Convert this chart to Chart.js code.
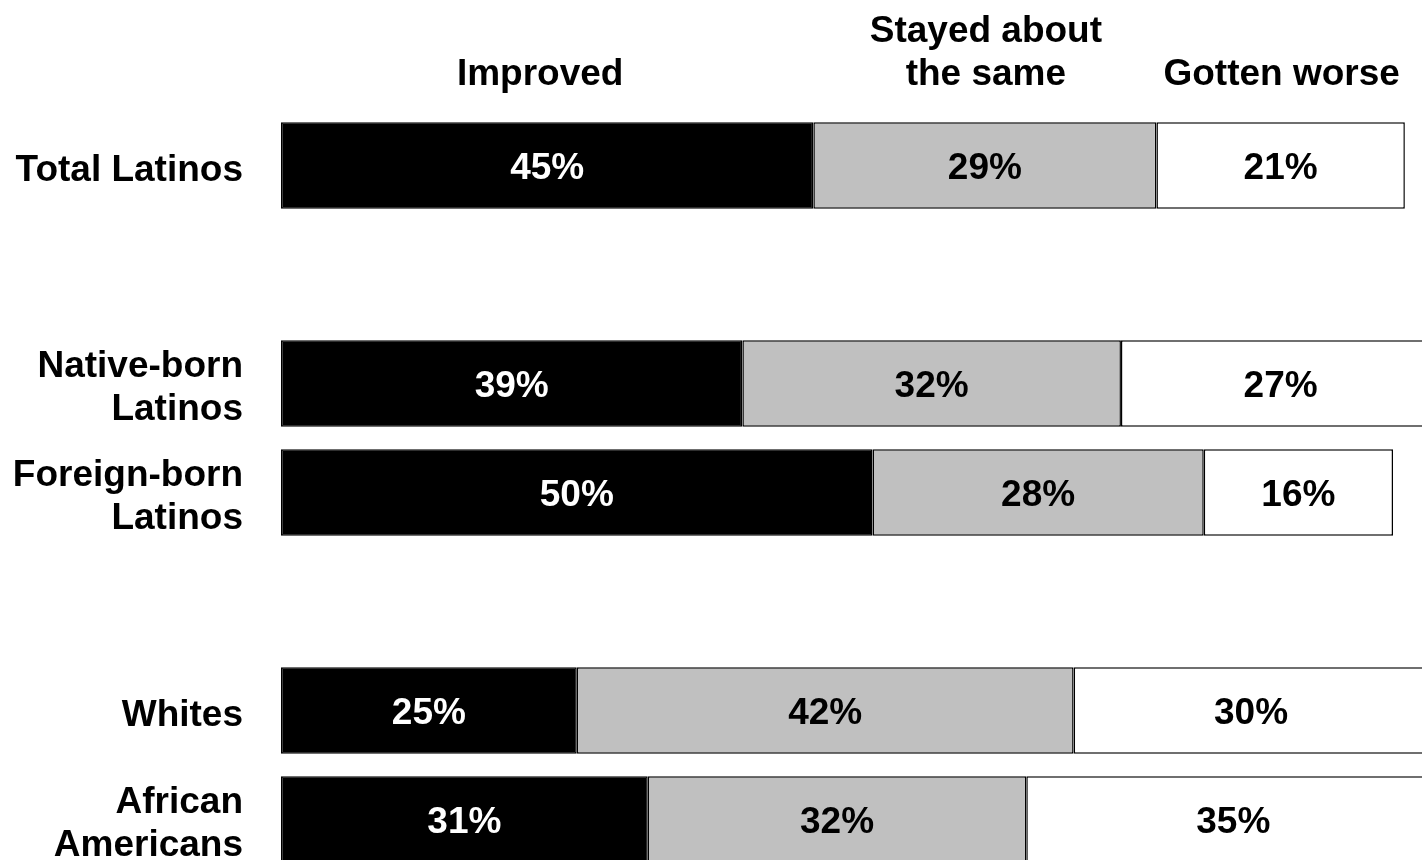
<!DOCTYPE html>
<html>
<head>
<meta charset="utf-8">
<script src="https://cdn.jsdelivr.net/npm/chart.js@4"></script>
<style>
  html, body { margin: 0; padding: 0; background: #fff; overflow: hidden; }
</style>
</head>
<body>
<canvas id="myChart" width="1464" height="874"></canvas>
<script>
const groups = ['Total Latinos', '', ['Native-born', 'Latinos'], ['Foreign-born', 'Latinos'], '', 'Whites', ['African', 'Americans']];
const improved = [45, null, 39, 50, null, 25, 31];
const stayedSame = [29, null, 32, 28, null, 42, 32];
const gottenWorse = [21, null, 27, 16, null, 30, 35];
const seriesTitles = [['Improved'], ['Stayed about', 'the same'], ['Gotten worse']];

const FONT = "'Liberation Sans', Arial, sans-serif";

// segment values and column headings drawn on top of the bars
const labelPlugin = {
    id: 'segmentLabels',
    afterDatasetsDraw(chart) {
        const ctx = chart.ctx;
        const area = chart.chartArea;
        ctx.save();
        ctx.font = 'bold 37px ' + FONT;
        ctx.textAlign = 'center';
        ctx.textBaseline = 'middle';
        chart.data.datasets.forEach((ds, i) => {
            const meta = chart.getDatasetMeta(i);
            meta.data.forEach((bar, j) => {
                const v = ds.data[j];
                if (v == null) return;
                const cx = (bar.x + bar.base) / 2;
                ctx.fillStyle = i === 0 ? '#fff' : '#000';
                ctx.fillText(v + '%', cx, bar.y + 3);
            });
            // heading over the first row
            const first = meta.data[0];
            const hx = (first.x + first.base) / 2 + (i === 0 ? -7 : 1);
            const lines = seriesTitles[i];
            ctx.fillStyle = '#000';
            lines.forEach((line, k) => {
                const y = area.top - 36 - (lines.length - 1 - k) * 43;
                ctx.fillText(line, hx, y);
            });
        });
        ctx.restore();
    }
};

function createChart() {
    const ctx = document.getElementById('myChart');

    new Chart(ctx, {
        type: 'bar',
        data: {
            labels: groups,
            datasets: [{
                label: 'Improved',
                data: improved,
                backgroundColor: '#000000',
                borderColor: '#000000',
                borderWidth: 1.5,
                borderSkipped: false
            }, {
                label: 'Stayed about the same',
                data: stayedSame,
                backgroundColor: '#c0c0c0',
                borderColor: '#000000',
                borderWidth: 1.5,
                borderSkipped: false
            }, {
                label: 'Gotten worse',
                data: gottenWorse,
                backgroundColor: '#ffffff',
                borderColor: '#000000',
                borderWidth: 1.5,
                borderSkipped: false
            }
            ]
        },
        options: {
            indexAxis: 'y',
            responsive: false,
            devicePixelRatio: 1,
            animation: false,
            barPercentage: 0.795,
            categoryPercentage: 1,
            layout: {
                padding: { top: 111, right: 0, bottom: 0, left: 0 }
            },
            plugins: {
                legend: { display: false },
                tooltip: { enabled: false }
            },
            scales: {
                x: {
                    stacked: true,
                    display: false,
                    min: 0,
                    max: 100
                },
                y: {
                    stacked: true,
                    grid: { display: false, drawTicks: false },
                    border: { display: false },
                    afterFit(scale) {
                        scale.width = 281;
                        scale.paddingTop = 0;
                        scale.paddingBottom = 0;
                    },
                    ticks: {
                        padding: 38,
                        labelOffset: 5,
                        color: '#000',
                        font: { family: FONT, size: 37, weight: 'bold', lineHeight: 1.16 }
                    }
                }
            }
        },
        plugins: [labelPlugin]
    });
}

createChart();
</script>
</body>
</html>
